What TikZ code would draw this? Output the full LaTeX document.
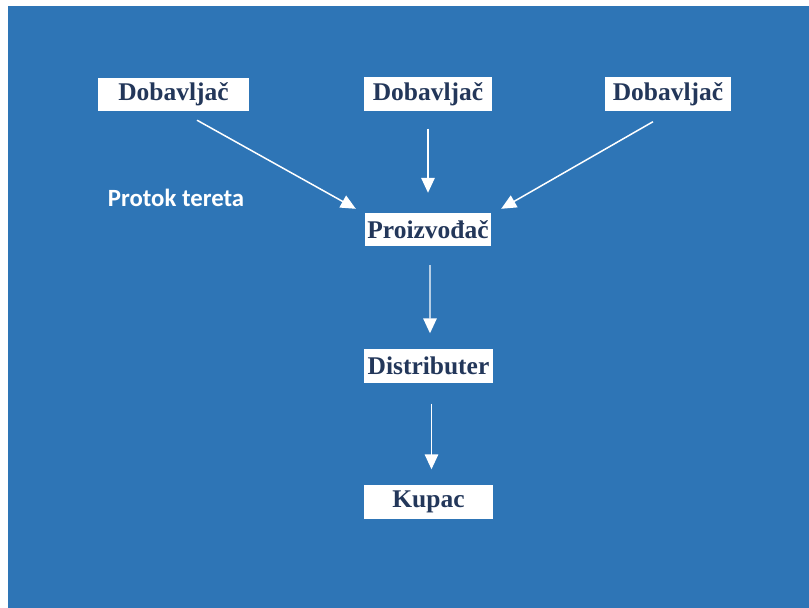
\documentclass[tikz,border=0pt]{standalone}
\usepackage{fontspec}
\setmainfont{Liberation Serif}
\newfontfamily\labelfont{Carlito}
\usetikzlibrary{arrows.meta,calc}
\definecolor{slideblue}{RGB}{46,117,182}
\definecolor{boxtext}{RGB}{35,55,90}
\begin{document}
\begin{tikzpicture}[x=0.02cm, y=-0.02cm, thick,
    box/.style = {fill=white, text=boxtext, font=\fontsize{14.5}{16}\selectfont\bfseries,
                  minimum height=0.68cm, inner sep=0pt},
    arr/.style = {draw=white, line width=0.85pt, -{Triangle[length=0.3cm, width=0.27cm]}}]
            \useasboundingbox (0,0) rectangle (809,608);
            \fill[white] (0,0) rectangle (809,608);
            \fill[slideblue] (8,6) rectangle (809,608);
            % suppliers
            \node[box, minimum width=3.02cm] (dob1) at (173.5,94.5) {Dobavljač};
            \node[box, minimum width=2.56cm] (dob2) at (428,94) {Dobavljač};
            \node[box, minimum width=2.52cm] (dob3) at (668,94) {Dobavljač};
            % chain
            \node[box, minimum width=2.54cm] (proiz) at (428,229.5) {Proizvođač};
            \node[box, minimum width=2.58cm] (distr) at (428.5,366) {Distributer};
            \node[box, minimum width=2.58cm] (kupac) at (428.5,502) {Kupac};
            \node[text=white, font=\labelfont\fontsize{14.1}{16}\selectfont\bfseries] (protok) at (176,198) {Protok tereta};
            \draw[arr] ($(dob1.south)+(23.5,8)$) -- ($(proiz.north west)+(-8,-3)$);
            \draw[arr] ($(dob2.south)+(0,17)$) -- ($(proiz.north)+(0,-19)$);
            \draw[arr] ($(dob3.south)+(-15,10)$) -- ($(proiz.north east)+(9,-3)$);
            \draw[arr] ($(proiz.south)+(2,18)$) -- ($(distr.north)+(1.5,-15)$);
            \draw[arr] ($(distr.south)+(3,20)$) -- ($(kupac.north)+(3,-15)$);
        \end{tikzpicture}
\end{document}
